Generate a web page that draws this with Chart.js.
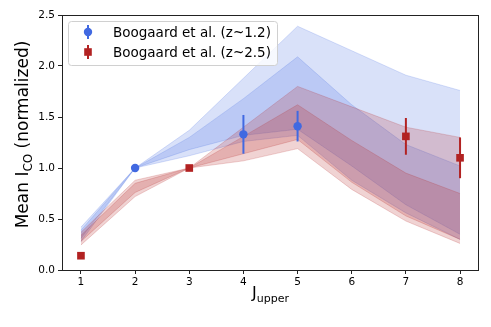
<!DOCTYPE html>
<html>
<head>
<meta charset="utf-8">
<script src="https://cdn.jsdelivr.net/npm/chart.js@4.4.1/dist/chart.umd.min.js"></script>
<style>
  html, body { margin: 0; padding: 0; background: #fff; }
</style>
</head>
<body>
<canvas id="c" width="491" height="327"></canvas>
<script>
// axis
const xTicks = [1, 2, 3, 4, 5, 6, 7, 8];
const yTicks = [0, 0.5, 1.0, 1.5, 2.0, 2.5];
const jUpper = [1, 2, 3, 4, 5, 6, 7, 8];

// Boogaard et al. measurements
const z12J = [2, 4, 5];
const z12Mean = [1.0, 1.33, 1.41];
const z12Err = [0, 0.19, 0.15];
const z25J = [1, 3, 7, 8];
const z25Mean = [0.14, 1.0, 1.31, 1.10];
const z25Err = [0, 0, 0.18, 0.20];

// shaded ranges (blue = z~1.2, red = z~2.5)
const blueOuterHi = [0.42, 1.0, 1.37, 1.88, 2.39, 2.15, 1.91, 1.76];
const blueOuterLo = [0.28, 1.0, 1.12, 1.26, 1.32, 0.88, 0.56, 0.30];
const blueInnerHi = [0.39, 1.0, 1.30, 1.68, 2.09, 1.62, 1.23, 1.02];
const blueInnerLo = [0.31, 1.0, 1.18, 1.32, 1.38, 1.02, 0.64, 0.35];
const redOuterHi = [0.37, 0.88, 1.0, 1.40, 1.80, 1.60, 1.40, 1.30];
const redOuterLo = [0.245, 0.72, 1.0, 1.07, 1.19, 0.79, 0.48, 0.26];
const redInnerHi = [0.34, 0.85, 1.0, 1.31, 1.62, 1.27, 0.95, 0.75];
const redInnerLo = [0.28, 0.76, 1.0, 1.14, 1.28, 0.86, 0.53, 0.30];

const BLUE = "#4169E1";
const RED = "#B22222";
const blueFill = "rgba(65,105,225,0.2)";
const redFill = "rgba(178,34,34,0.2)";

const pts = (xs, ys) => xs.map((x, i) => ({ x: x, y: ys[i] }));

function band(values, color, fill) {
  return {
    data: pts(jUpper, values),
    borderColor: color,
    backgroundColor: color,
    borderWidth: 1,
    pointRadius: 0,
    tension: 0,
    fill: fill
  };
}

// vertical error bars drawn under each marker set
const errorBars = {
  id: "errorBars",
  beforeDatasetDraw(chart, args) {
    const sets = { 0: [z12J, z12Mean, z12Err, BLUE], 1: [z25J, z25Mean, z25Err, RED] };
    const s = sets[args.index];
    if (!s) return;
    const xs = chart.scales.x, ys = chart.scales.y, ctx = chart.ctx;
    ctx.save();
    ctx.strokeStyle = s[3];
    ctx.lineWidth = 2;
    s[0].forEach((j, i) => {
      if (!s[2][i]) return;
      const px = xs.getPixelForValue(j);
      ctx.beginPath();
      ctx.moveTo(px, ys.getPixelForValue(s[1][i] - s[2][i]));
      ctx.lineTo(px, ys.getPixelForValue(s[1][i] + s[2][i]));
      ctx.stroke();
    });
    ctx.restore();
  }
};

// frame, axis titles and legend
const decorations = {
  id: "decorations",
  afterDraw(chart) {
    const ctx = chart.ctx, a = chart.chartArea;
    ctx.save();
    ctx.strokeStyle = "#222";
    ctx.lineWidth = 1;
    ctx.strokeRect(Math.round(a.left) + 0.5, Math.round(a.top) + 0.5,
      Math.round(a.right - a.left) - 1, Math.round(a.bottom - a.top));

    ctx.fillStyle = "#000";
    ctx.textBaseline = "alphabetic";

    // y title
    const big = "17px 'DejaVu Sans'", small = "12px 'DejaVu Sans'";
    ctx.font = big;
    const w1 = ctx.measureText("Mean I").width;
    const w3 = ctx.measureText(" (normalized)").width;
    ctx.font = small;
    const w2 = ctx.measureText("CO").width;
    const total = w1 + w2 + w3;
    ctx.save();
    ctx.translate(28, (a.top + a.bottom) / 2 - 8);
    ctx.rotate(-Math.PI / 2);
    let x0 = -total / 2;
    ctx.font = big;
    ctx.fillText("Mean I", x0, 0);
    ctx.font = small;
    ctx.fillText("CO", x0 + w1, 3.5);
    ctx.font = big;
    ctx.fillText(" (normalized)", x0 + w1 + w2, 0);
    ctx.restore();

    // x title
    const bigX = "16px 'DejaVu Sans'", smallX = "11px 'DejaVu Sans'";
    ctx.font = bigX;
    const j1 = ctx.measureText("J").width;
    ctx.font = smallX;
    const j2 = ctx.measureText("upper").width;
    let xs = (a.left + a.right) / 2 - (j1 + j2) / 2;
    ctx.font = bigX;
    ctx.fillText("J", xs, 298);
    ctx.font = smallX;
    ctx.fillText("upper", xs + j1, 302);

    // legend
    const lx = 68, ly = 21, lw = 209, lh = 44;
    ctx.fillStyle = "rgba(255,255,255,0.8)";
    ctx.strokeStyle = "#d0d0d0";
    ctx.beginPath();
    ctx.roundRect(lx + 0.5, ly + 0.5, lw, lh, 3);
    ctx.fill();
    ctx.stroke();

    const rows = [
      ["Boogaard et al. (z~1.2)", BLUE, "circle"],
      ["Boogaard et al. (z~2.5)", RED, "rect"]
    ];
    rows.forEach((r, i) => {
      const cy = 32 + i * 20, mx = 88;
      ctx.strokeStyle = r[1];
      ctx.fillStyle = r[1];
      ctx.lineWidth = 2;
      ctx.beginPath();
      ctx.moveTo(mx, cy - 7);
      ctx.lineTo(mx, cy + 7);
      ctx.stroke();
      ctx.beginPath();
      if (r[2] === "circle") ctx.arc(mx, cy, 4.2, 0, Math.PI * 2);
      else ctx.rect(mx - 3.8, cy - 3.8, 7.6, 7.6);
      ctx.fill();
      ctx.fillStyle = "#000";
      ctx.font = "13.5px 'DejaVu Sans'";
      ctx.textBaseline = "middle";
      ctx.fillText(r[0], 113, cy + 1);
    });
    ctx.restore();
  }
};

new Chart(document.getElementById("c"), {
  type: "line",
  data: {
    datasets: [
      {
        data: pts(z12J, z12Mean),
        showLine: false,
        pointStyle: "circle",
        pointRadius: 4.2,
        pointBackgroundColor: BLUE,
        pointBorderWidth: 0,
        borderColor: BLUE
      },
      {
        data: pts(z25J, z25Mean),
        showLine: false,
        pointStyle: "rect",
        pointRadius: 5.4,
        pointBackgroundColor: RED,
        pointBorderWidth: 0,
        borderColor: RED
      },
      band(redInnerHi, redFill, "+1"),
      band(redInnerLo, redFill, false),
      band(redOuterHi, redFill, "+1"),
      band(redOuterLo, redFill, false),
      band(blueInnerHi, blueFill, "+1"),
      band(blueInnerLo, blueFill, false),
      band(blueOuterHi, blueFill, "+1"),
      band(blueOuterLo, blueFill, false)
    ]
  },
  options: {
    responsive: false,
    animation: false,
    devicePixelRatio: 1,
    layout: { padding: { left: 0, right: 12, top: 15, bottom: 0 } },
    plugins: { legend: { display: false }, tooltip: { enabled: false } },
    scales: {
      x: {
        type: "linear",
        min: 0.65,
        max: 8.35,
        afterBuildTicks: (s) => { s.ticks = xTicks.map(v => ({ value: v })); },
        afterFit: (s) => { s.height = 57; },
        grid: { drawOnChartArea: false, drawTicks: true, tickLength: 4, color: "#222" },
        border: { display: false },
        ticks: { color: "#000", padding: 2, font: { family: "DejaVu Sans", size: 10.5 }, callback: v => String(v) }
      },
      y: {
        type: "linear",
        min: 0,
        max: 2.5,
        afterBuildTicks: (s) => { s.ticks = yTicks.map(v => ({ value: v })); },
        afterFit: (s) => { s.width = 62; },
        grid: { drawOnChartArea: false, drawTicks: true, tickLength: 4, color: "#222" },
        border: { display: false },
        ticks: { color: "#000", padding: 3, font: { family: "DejaVu Sans", size: 10.5 }, callback: v => v.toFixed(1) }
      }
    }
  },
  plugins: [errorBars, decorations]
});
</script>
</body>
</html>
